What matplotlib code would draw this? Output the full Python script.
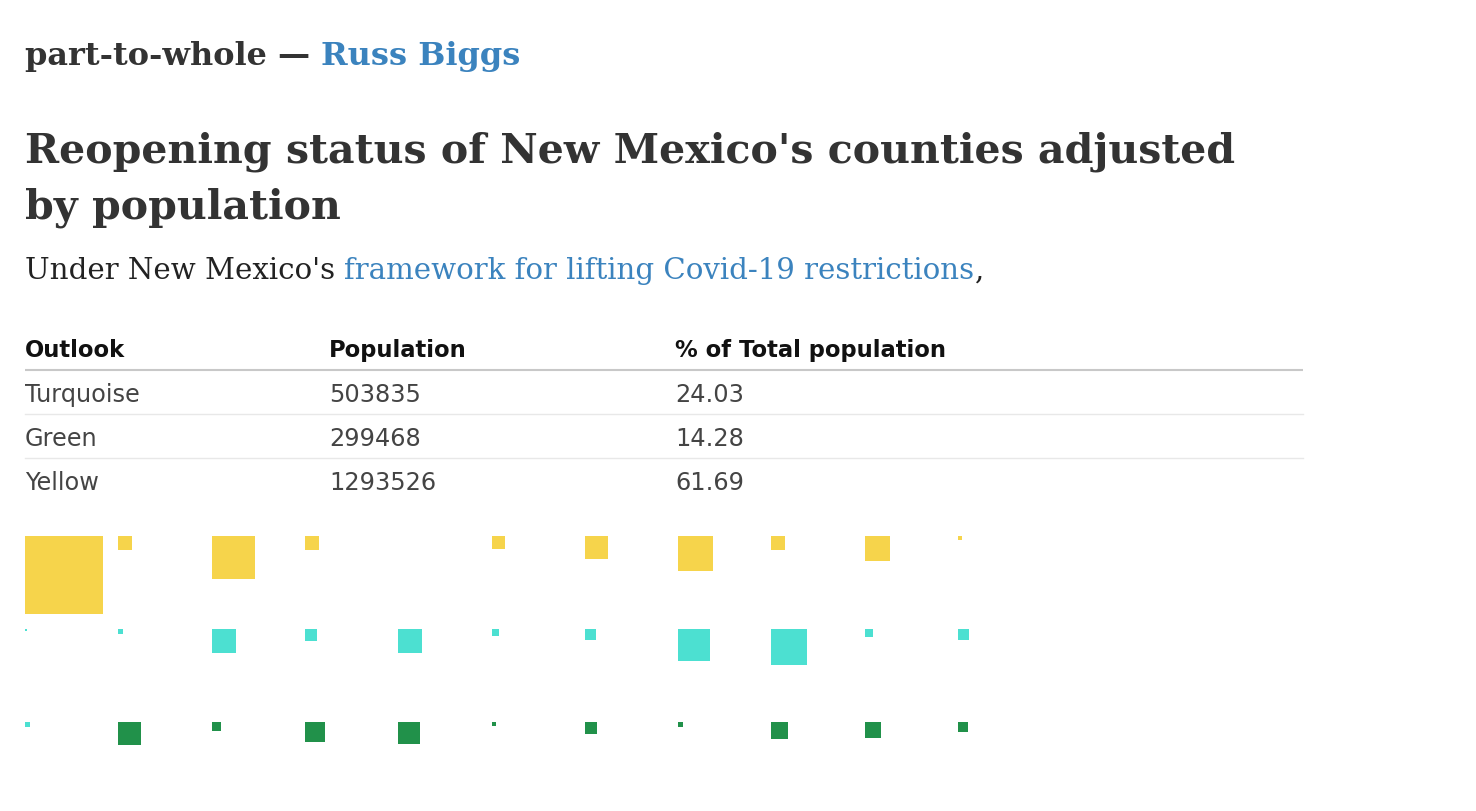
import matplotlib
matplotlib.use("Agg")
import matplotlib.pyplot as plt
from matplotlib.patches import Rectangle
import numpy as np

# Table data
outlooks = ["Turquoise", "Green", "Yellow"]
populations = [503835, 299468, 1293526]
pct_total = [24.03, 14.28, 61.69]

# County squares (estimated populations), row by row
row_yellow = [679121, 22000, 206000, 22000, 0, 19000, 59000, 137000, 22000, 70000, 1800]
row_turquoise = [450, 2300, 64000, 16000, 64000, 5500, 13500, 114000, 145000, 7100, 13500]
row_green = [2300, 59000, 9000, 44600, 54000, 1800, 16000, 2800, 32000, 28600, 11200]

status_yellow = ["Yellow"] * 11
status_turquoise = ["Turquoise"] * 11
status_green = ["Turquoise"] + ["Green"] * 10

colors = {"Yellow": "#F6D44B", "Turquoise": "#4CE0D1", "Green": "#21914A"}
DARK = "#333333"
BLUE = "#3B83BE"
SERIF = "DejaVu Serif"
SANS = "DejaVu Sans"

W, H = 1476, 812
fig = plt.figure(figsize=(W / 100, H / 100), dpi=100)
ax = fig.add_axes([0, 0, 1, 1])
ax.set_xlim(0, W)
ax.set_ylim(H, 0)
ax.axis("off")
renderer = fig.canvas.get_renderer()


def chain_text(x, y, parts, **kw):
    # draw text pieces one after another on the same baseline
    for txt, col in parts:
        t = ax.text(x, y, txt, color=col, va="baseline", ha="left", **kw)
        bb = t.get_window_extent(renderer)
        x = ax.transData.inverted().transform((bb.x1, bb.y0))[0]
    return x


# Header
chain_text(25, 65, [("part-to-whole \u2014 ", DARK), ("Russ Biggs", BLUE)],
           family=SERIF, fontweight="bold", fontsize=23)

# Title
ax.text(25, 163, "Reopening status of New Mexico's counties adjusted", color=DARK,
        family=SERIF, fontweight="bold", fontsize=29.6, va="baseline")
ax.text(25, 219, "by population", color=DARK,
        family=SERIF, fontweight="bold", fontsize=29.6, va="baseline")

# Subtitle
chain_text(25, 279, [("Under New Mexico's ", "#222222"),
                     ("framework for lifting Covid-19 restrictions", BLUE),
                     (",", "#222222")],
           family=SERIF, fontsize=21.1)

# Table
col_x = [25, 329, 675]
headers = ["Outlook", "Population", "% of Total population"]
for cx, h in zip(col_x, headers):
    ax.text(cx, 357, h, family=SANS, fontweight="bold", fontsize=16.3,
            color="#111111", va="baseline")
ax.plot([25, 1303], [371, 371], color="#c8c8c8", lw=1.5, solid_capstyle="butt")
for i, (o, p, pc) in enumerate(zip(outlooks, populations, pct_total)):
    yb = 402 + i * 44
    for cx, val in zip(col_x, [o, str(p), f"{pc:.2f}"]):
        ax.text(cx, yb, val, family=SANS, fontsize=17.3, color="#444444",
                va="baseline")
    if i < len(outlooks) - 1:
        ax.plot([25, 1303], [415 + i * 44] * 2, color="#e8e8e8", lw=1)

# Squares: area proportional to county population
rows = [(row_yellow, status_yellow), (row_turquoise, status_turquoise),
        (row_green, status_green)]
max_side = 78
scale = max_side / np.sqrt(max(row_yellow))
x0, y0, step_x, step_y = 25, 537, 93.3, 93
for r, (vals, stats) in enumerate(rows):
    for c, (v, s) in enumerate(zip(vals, stats)):
        side = np.sqrt(v) * scale
        if side <= 0:
            continue
        ax.add_patch(Rectangle((x0 + c * step_x, y0 + r * step_y), side, side,
                               facecolor=colors[s], edgecolor="none"))

fig.savefig("out.png", dpi=100, facecolor="white")
